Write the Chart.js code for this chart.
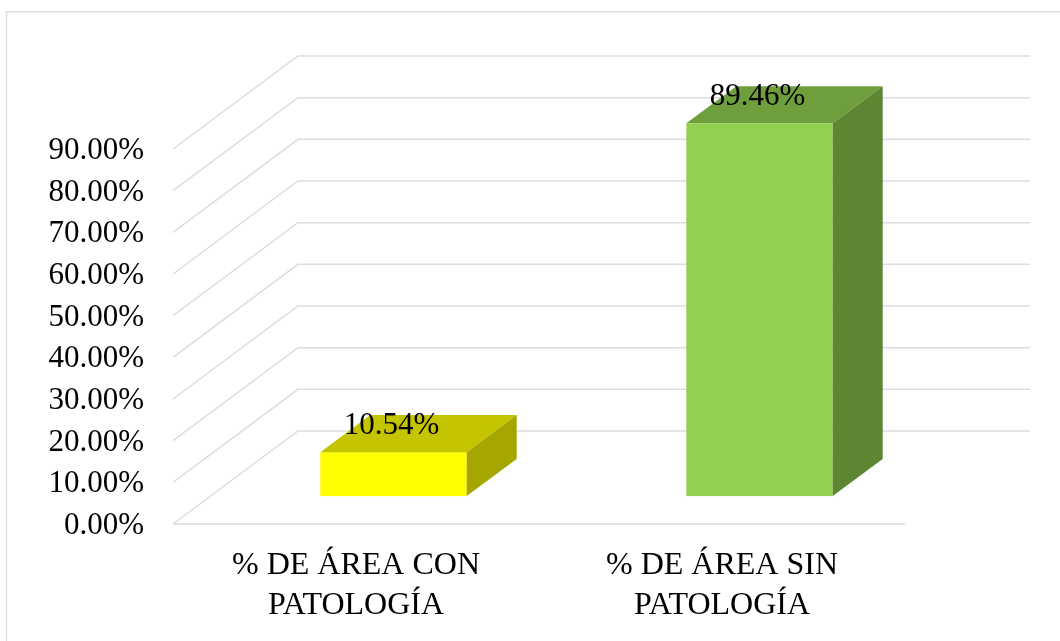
<!DOCTYPE html>
<html>
<head>
<meta charset="utf-8">
<script src="https://cdn.jsdelivr.net/npm/chart.js@4.4.0/dist/chart.umd.min.js"></script>
<style>
  html, body { margin: 0; padding: 0; background: #fff; }
  canvas { display: block; }
</style>
</head>
<body>
<canvas id="areaChart" width="1060" height="641"></canvas>
<script>
// datos
const categories = [['% DE ÁREA CON', 'PATOLOGÍA'], ['% DE ÁREA SIN', 'PATOLOGÍA']];
const areaPercent = [10.54, 89.46];
const yTicks = [0, 10, 20, 30, 40, 50, 60, 70, 80, 90];

// colores de cada cara del prisma
const faceFront = ['#FFFF00', '#92D050'];
const faceTop = ['#C4C400', '#6F9E3C'];
const faceSide = ['#A6A600', '#5E8632'];

const SERIF = '"Liberation Serif", "Times New Roman", serif';
const GRID = '#DADDE4';
const DEPTH_X = 125;   // profundidad del piso en pixeles
const DEPTH_Y = 93;
const BAR_FRONT = 0.3; // la barra ocupa de 0.3 a 0.7 de la profundidad
const BAR_BACK = 0.7;

const fmt = v => v.toFixed(2) + '%';

// plugin para el efecto 3D
const box3d = {
    id: 'box3d',
    beforeDraw(chart) {
        const ctx = chart.ctx;
        ctx.save();
        ctx.strokeStyle = '#DDE0E6';
        ctx.lineWidth = 1.5;
        ctx.beginPath();
        ctx.moveTo(6.5, chart.height + 5);
        ctx.lineTo(6.5, 11.75);
        ctx.lineTo(chart.width + 5, 11.75);
        ctx.stroke();
        ctx.restore();
    },
    beforeDatasetsDraw(chart) {
        const { ctx, chartArea: a, scales: { y } } = chart;
        ctx.save();
        ctx.strokeStyle = GRID;
        ctx.lineWidth = 1.5;
        yTicks.forEach(v => {
            const py = y.getPixelForValue(v);
            ctx.beginPath();
            ctx.moveTo(a.left, py);
            ctx.lineTo(a.left + DEPTH_X, py - DEPTH_Y);
            ctx.lineTo(a.right + DEPTH_X, py - DEPTH_Y);
            ctx.stroke();
        });
        // borde frontal del piso
        const p0 = y.getPixelForValue(0);
        ctx.beginPath();
        ctx.moveTo(a.left, p0);
        ctx.lineTo(a.right, p0);
        ctx.stroke();
        ctx.restore();
    },
    beforeDatasetDraw(chart, args) {
        const ctx = chart.ctx;
        const fx = DEPTH_X * BAR_FRONT, fy = DEPTH_Y * BAR_FRONT;
        const bx = DEPTH_X * (BAR_BACK - BAR_FRONT), by = DEPTH_Y * (BAR_BACK - BAR_FRONT);
        ctx.save();
        args.meta.data.forEach((bar, i) => {
            const x0 = bar.x - bar.width / 2 + fx;
            const x1 = bar.x + bar.width / 2 + fx;
            const top = bar.y - fy;
            const bot = bar.base - fy;

            ctx.fillStyle = faceFront[i];
            ctx.fillRect(x0, top, x1 - x0, bot - top);

            ctx.fillStyle = faceTop[i];
            ctx.beginPath();
            ctx.moveTo(x0, top);
            ctx.lineTo(x1, top);
            ctx.lineTo(x1 + bx, top - by);
            ctx.lineTo(x0 + bx, top - by);
            ctx.closePath();
            ctx.fill();

            ctx.fillStyle = faceSide[i];
            ctx.beginPath();
            ctx.moveTo(x1, top);
            ctx.lineTo(x1 + bx, top - by);
            ctx.lineTo(x1 + bx, bot - by);
            ctx.lineTo(x1, bot);
            ctx.closePath();
            ctx.fill();
        });
        ctx.restore();
        return false;
    },
    afterDatasetsDraw(chart) {
        const ctx = chart.ctx;
        const fx = DEPTH_X * BAR_FRONT, fy = DEPTH_Y * BAR_FRONT;
        const meta = chart.getDatasetMeta(0);
        ctx.save();
        ctx.fillStyle = '#000';
        ctx.font = '31px ' + SERIF;
        ctx.textAlign = 'center';
        ctx.textBaseline = 'alphabetic';
        meta.data.forEach((bar, i) => {
            ctx.fillText(fmt(areaPercent[i]), bar.x + fx - 2, bar.y - fy - 18);
        });
        ctx.restore();
    }
};

const chartElement = document.getElementById('areaChart');
new Chart(chartElement.getContext('2d'), {
    type: 'bar',
    data: {
        labels: categories,
        datasets: [{
            data: areaPercent,
            backgroundColor: faceFront,
            categoryPercentage: 1,
            barPercentage: 0.4
        }]
    },
    options: {
        responsive: false,
        animation: false,
        devicePixelRatio: 1,
        layout: { padding: { top: 149, right: 155, left: 0, bottom: 0 } },
        plugins: {
            legend: { display: false },
            tooltip: { enabled: false }
        },
        scales: {
            x: {
                grid: { display: false, drawTicks: false },
                border: { display: false },
                ticks: {
                    color: '#000',
                    padding: 22,
                    maxRotation: 0,
                    font: { family: SERIF, size: 32, lineHeight: 1.25 }
                },
                afterFit: s => { s.height = 117; }
            },
            y: {
                min: 0,
                max: 90,
                grid: { display: false, drawTicks: false },
                border: { display: false },
                afterBuildTicks: s => { s.ticks = yTicks.map(v => ({ value: v })); },
                ticks: {
                    color: '#000',
                    padding: 29,
                    labelOffset: 2,
                    font: { family: SERIF, size: 31 },
                    callback: v => fmt(v)
                },
                afterFit: s => { s.width = 173; }
            }
        }
    },
    plugins: [box3d]
});
</script>
</body>
</html>
